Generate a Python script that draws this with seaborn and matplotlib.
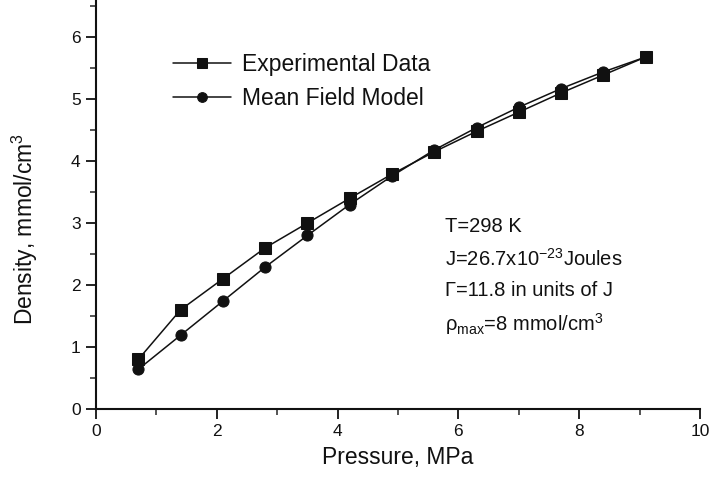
import matplotlib
matplotlib.use("Agg")
import matplotlib.pyplot as plt
from matplotlib.ticker import MultipleLocator
import seaborn as sns
import pandas as pd

# Pressure (MPa) and density (mmol/cm^3)
pressure = [0.7, 1.4, 2.1, 2.8, 3.5, 4.2, 4.9, 5.6, 6.3, 7.0, 7.7, 8.4, 9.1]
density_exp = [0.80, 1.60, 2.10, 2.60, 3.00, 3.40, 3.79, 4.15, 4.48, 4.79, 5.10, 5.39, 5.68]
density_model = [0.64, 1.19, 1.74, 2.29, 2.80, 3.30, 3.76, 4.18, 4.54, 4.87, 5.17, 5.44, 5.68]
series_names = ["Experimental Data", "Mean Field Model"]

df = pd.concat([
    pd.DataFrame({"Pressure": pressure, "Density": density_exp, "Series": series_names[0]}),
    pd.DataFrame({"Pressure": pressure, "Density": density_model, "Series": series_names[1]}),
])

sns.set_style("ticks")
plt.rcParams["font.family"] = ["Liberation Sans", "DejaVu Sans"]
plt.rcParams["mathtext.fontset"] = "custom"
plt.rcParams["mathtext.rm"] = "Liberation Sans"
plt.rcParams["mathtext.it"] = "Liberation Sans"

W, H = 712, 480
fig = plt.figure(figsize=(W / 100, H / 100), dpi=100)
ax = fig.add_axes([96 / W, (H - 409) / H, 604 / W, 409 / H])

sns.lineplot(data=df, x="Pressure", y="Density", hue="Series", style="Series",
             palette=["#111111", "#111111"], markers=["s", "o"], dashes=False,
             markersize=8, linewidth=1.1, markeredgecolor="#111111", ax=ax)

ax.set_xlim(0, 10)
ax.set_ylim(0, 6.6)
ax.xaxis.set_major_locator(MultipleLocator(2))
ax.xaxis.set_minor_locator(MultipleLocator(1))
ax.yaxis.set_major_locator(MultipleLocator(1))
ax.yaxis.set_minor_locator(MultipleLocator(0.5))
ax.tick_params(which="major", direction="out", length=7, width=1.3, labelsize=12.5,
               colors="#111111", pad=4)
ax.tick_params(which="minor", direction="out", length=4, width=1.1)

for side in ["top", "right"]:
    ax.spines[side].set_visible(False)
for side in ["left", "bottom"]:
    ax.spines[side].set_linewidth(1.5)
    ax.spines[side].set_color("#111111")

ax.set_xlabel("Pressure, MPa", fontsize=16.5, color="#111111", labelpad=5)
ax.set_ylabel("Density, mmol/cm$^3$", fontsize=16.5, color="#111111")
ax.yaxis.set_label_coords(-(96 - 40) / 604, 0.44)

leg = ax.legend(loc="upper left", bbox_to_anchor=(173 / W, 1 - 53 / H),
                bbox_transform=fig.transFigure, frameon=False, fontsize=16.5,
                handlelength=2.55, handletextpad=0.45, labelspacing=0.5,
                borderpad=0, borderaxespad=0)
for h in leg.legend_handles:
    h.set_markersize(7)
for t in leg.get_texts():
    t.set_color("#111111")

notes = ["T=298 K",
         "J=26.7x10$^{-23}$Joules",
         "\u0393=11.8 in units of J",
         "\u03c1$_{\\mathrm{max}}$=8 mmol/cm$^3$"]
note_baseline = [232, 266, 296, 331]
for txt, yp in zip(notes, note_baseline):
    fig.text(445 / W, 1 - yp / H, txt, fontsize=14.5, va="baseline", ha="left", color="#111111")

fig.savefig("out.png", dpi=100)
